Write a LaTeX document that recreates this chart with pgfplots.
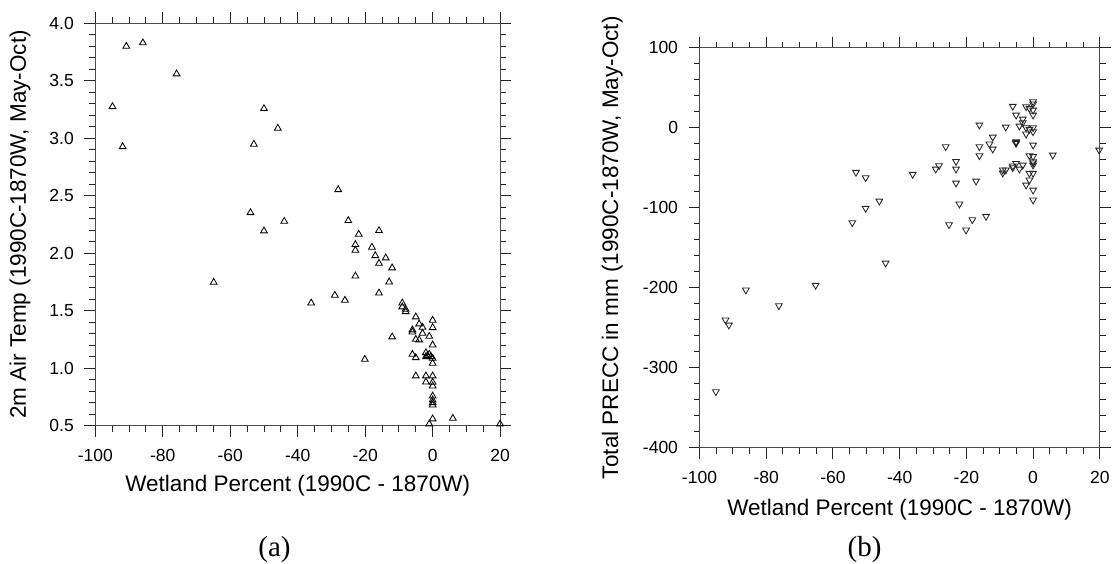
\documentclass[border=0pt]{standalone}
\usepackage{pgfplots}
\pgfplotsset{compat=1.18}
\usepackage{fontspec}
\setmainfont{Liberation Sans}
\newfontfamily\capfont{Liberation Serif}
\begin{document}
\begin{tikzpicture}
\path[use as bounding box] (0,0) rectangle (1112bp,564bp);
\pgfplotsset{
 myax/.style={
  scale only axis,
  clip=false,
  axis line style={black!70, line width=0.9bp},
  every tick/.style={black!85, line width=0.9bp},
  tick align=outside,
  major tick length=11bp, minor tick length=6bp,
  xmin=-100, xmax=20,
  xtick={-100,-80,-60,-40,-20,0,20},
  xticklabels={-100,-80,-60,-40,-20,0,20},
  minor x tick num=3,
  ticklabel style={font=\fontsize{17.5bp}{20bp}\selectfont},
  xticklabel style={yshift=-9.5bp},
  yticklabel style={xshift=-7bp},
  label style={font=\fontsize{22.5bp}{26bp}\selectfont},
  xlabel={Wetland Percent (1990C - 1870W)},
 }
}
% ---------- (a) ----------
\begin{axis}[myax,
  at={(95.3bp,138.3bp)}, anchor=south west,
  width=404.8bp, height=402.4bp,
  ymin=0.5, ymax=4.0,
  ytick={0.5,1.0,1.5,2.0,2.5,3.0,3.5,4.0},
  yticklabels={0.5,1.0,1.5,2.0,2.5,3.0,3.5,4.0},
  minor y tick num=4,
  ylabel={2m Air Temp (1990C-1870W, May-Oct)},
  ylabel style={at={(axis description cs:-0.186,0.5)}, anchor=center},
  xlabel style={at={(axis description cs:0.5,-0.149)}, anchor=center},
]
\addplot[only marks, mark=triangle, mark size=3.9bp, mark options={black, line width=0.85bp, fill=none}] coordinates {
(-90.8,3.80) (-85.9,3.83) (-75.9,3.56) (-94.9,3.275) (-91.9,2.927)
(-50.0,3.258) (-45.9,3.087) (-53.0,2.948) (-28.0,2.553) (-54.0,2.353)
(-44.0,2.278) (-50.0,2.194) (-25.0,2.284) (-15.9,2.197) (-21.9,2.165)
(-22.9,2.075) (-22.9,2.026) (-18.0,2.052) (-17.0,1.979) (-13.9,1.959)
(-15.9,1.912) (-12.0,1.872) (-22.9,1.802) (-12.9,1.75) (-64.9,1.747)
(-15.9,1.654) (-29.0,1.634) (-26.0,1.591) (-36.0,1.567) (-9.0,1.567)
(-9.0,1.533) (-8.0,1.512) (-8.0,1.492) (-5.0,1.446) (0,1.417)
(-4.0,1.385) (-3.0,1.356) (0,1.353) (-6.0,1.333) (-6.0,1.315)
(-3.0,1.304) (-1.0,1.277) (-12.0,1.272) (-5.0,1.251) (-4.0,1.246)
(0,1.202) (-2.0,1.135) (-1.0,1.121) (-6.0,1.121) (-2.0,1.10)
(-5.0,1.092) (0,1.086) (0,1.043) (-20.1,1.077) (-5.0,0.933)
(-2.0,0.933) (0,0.933) (-2.0,0.88) (0,0.877) (0,0.845)
(0,0.758) (0,0.724) (0,0.70) (0,0.68) (-1.0,0.515)
(0,0.559) (6.0,0.564) (20,0.515) (-1.5,1.11) (-0.5,1.10)
};
\end{axis}
% ---------- (b) ----------
\begin{axis}[myax,
  at={(699.5bp,116.3bp)}, anchor=south west,
  width=400.3bp, height=400bp,
  ymin=-400, ymax=100,
  ytick={-400,-300,-200,-100,0,100},
  yticklabels={-400,-300,-200,-100,0,100},
  minor y tick num=4,
  ylabel={Total PRECC in mm (1990C-1870W, May-Oct)},
  ylabel style={at={(axis description cs:-0.218,0.5)}, anchor=center},
  xlabel style={at={(axis description cs:0.5,-0.155)}, anchor=center},
]
\addplot[only marks, mark=triangle, mark size=3.9bp, mark options={rotate=180, black!85, line width=0.85bp, fill=none}] coordinates {
(-95.1,-330) (-92.2,-240.4) (-91.2,-246.7) (-86.1,-202.9) (-76.2,-222.5)
(-65.2,-197) (-54.2,-118.75) (-53.1,-55.8) (-50.2,-62.5) (-50.2,-100.8)
(-46.1,-91.7) (-44.2,-169.2) (-36.1,-58.3) (-29.2,-51.7) (-28.2,-47.5)
(-26.2,-23.75) (-25.2,-121.25) (-23.1,-42.1) (-23.1,-51.7) (-23.1,-69.2)
(-22.1,-95.4) (-20.1,-127.9) (-18.2,-115) (-17.1,-66.7) (-16.1,3.3)
(-16.1,-23.75) (-16.1,-35) (-14.1,-110.8) (-13.1,-20.4) (-12.1,-11.7)
(-12.1,-26.7) (-9.1,-52.9) (-9.1,-56.7) (-8.2,0.8) (-8.2,-52.9)
(-6.1,26.7) (-6.1,-47.9) (-5.1,15.8) (-5.1,-17.5) (-5.1,-19.6)
(-5.1,-44.6) (-4.1,-51.7) (-4.1,2) (-3.1,10.8) (-3.1,6.25)
(-2.1,26.25) (-2.1,0) (-2.1,-7.9) (-2.1,-71.7) (-1.1,24.2)
(-1.1,-2) (-1.1,-35) (-1.1,-57) (-1.1,-65.4) (0,32.5)
(0,29.6) (0,22) (0,15.8) (0,0) (0,-5)
(0,-21.7) (0,-36) (0,-42.5) (0,-46.7) (0,-57)
(0,-78) (0,-90.4) (5.9,-34.2) (19.8,-28) (-3.1,-46.7)
(-6.1,-50) (-5.1,-18.5) (0,-44)
};
\end{axis}
\node[font=\capfont\fontsize{29bp}{32bp}\selectfont, anchor=center] at (274.5bp,14bp) {(a)};
\node[font=\capfont\fontsize{29bp}{32bp}\selectfont, anchor=center] at (864.6bp,14bp) {(b)};
\end{tikzpicture}
\end{document}
